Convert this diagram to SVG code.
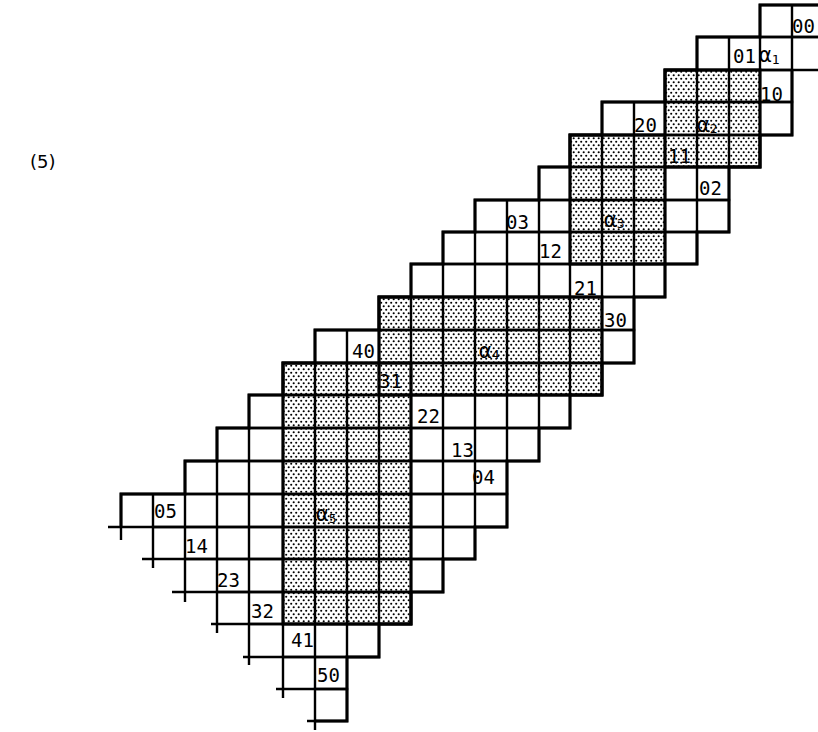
<svg xmlns="http://www.w3.org/2000/svg" width="818" height="732" viewBox="0 0 818 732">
<style>
.g{fill:none;stroke:#000;stroke-width:2.4;stroke-linejoin:miter}
.o{fill:none;stroke:#000;stroke-width:3}
.t{fill:none;stroke:#000;stroke-width:2.4}
.sh{fill:url(#dots);stroke:none}
text{font-family:"DejaVu Sans Mono","Liberation Mono",monospace;font-size:19px;fill:#000}
.al{font-size:21px}
.sub{font-size:13px}
.cap{font-family:"DejaVu Sans","Liberation Sans",sans-serif;font-size:18px}
</style>
<defs>
<pattern id="dots" width="5" height="7" patternUnits="userSpaceOnUse">
<rect width="5" height="7" fill="#fff"/>
<circle cx="1.2" cy="1.75" r="1.05" fill="#000"/>
<circle cx="3.7" cy="5.25" r="1.05" fill="#000"/>
</pattern>
</defs>
<rect width="818" height="732" fill="#fff"/>
<g id="shading">
<rect id="block-a2" class="sh" x="665" y="70" width="95" height="97"/>
<rect id="block-a3" class="sh" x="570" y="135" width="95" height="129"/>
<rect id="block-a4" class="sh" x="379" y="297" width="223" height="98"/>
<rect id="block-a5" class="sh" x="283" y="363" width="128" height="261"/>
</g>
<g id="grid">
<path id="row0" class="g" d="M760 5H824V37H760Z M792 5V37"/>
<path id="row1" class="g" d="M697 37H824V70H697Z M729 37V70 M760 37V70 M792 37V70"/>
<path id="row2" class="g" d="M665 70H792V102H665Z M697 70V102 M729 70V102 M760 70V102"/>
<path id="row3" class="g" d="M602 102H792V135H602Z M634 102V135 M665 102V135 M697 102V135 M729 102V135 M760 102V135"/>
<path id="row4" class="g" d="M570 135H760V167H570Z M602 135V167 M634 135V167 M665 135V167 M697 135V167 M729 135V167"/>
<path id="row5" class="g" d="M539 167H729V200H539Z M570 167V200 M602 167V200 M634 167V200 M665 167V200 M697 167V200"/>
<path id="row6" class="g" d="M475 200H729V232H475Z M507 200V232 M539 200V232 M570 200V232 M602 200V232 M634 200V232 M665 200V232 M697 200V232"/>
<path id="row7" class="g" d="M443 232H697V264H443Z M475 232V264 M507 232V264 M539 232V264 M570 232V264 M602 232V264 M634 232V264 M665 232V264"/>
<path id="row8" class="g" d="M411 264H665V297H411Z M443 264V297 M475 264V297 M507 264V297 M539 264V297 M570 264V297 M602 264V297 M634 264V297"/>
<path id="row9" class="g" d="M379 297H634V330H379Z M411 297V330 M443 297V330 M475 297V330 M507 297V330 M539 297V330 M570 297V330 M602 297V330"/>
<path id="row10" class="g" d="M315 330H634V363H315Z M347 330V363 M379 330V363 M411 330V363 M443 330V363 M475 330V363 M507 330V363 M539 330V363 M570 330V363 M602 330V363"/>
<path id="row11" class="g" d="M283 363H602V395H283Z M315 363V395 M347 363V395 M379 363V395 M411 363V395 M443 363V395 M475 363V395 M507 363V395 M539 363V395 M570 363V395"/>
<path id="row12" class="g" d="M249 395H570V428H249Z M283 395V428 M315 395V428 M347 395V428 M379 395V428 M411 395V428 M443 395V428 M475 395V428 M507 395V428 M539 395V428"/>
<path id="row13" class="g" d="M217 428H539V461H217Z M249 428V461 M283 428V461 M315 428V461 M347 428V461 M379 428V461 M411 428V461 M443 428V461 M475 428V461 M507 428V461"/>
<path id="row14" class="g" d="M185 461H507V494H185Z M217 461V494 M249 461V494 M283 461V494 M315 461V494 M347 461V494 M379 461V494 M411 461V494 M443 461V494 M475 461V494"/>
<path id="row15" class="g" d="M121 494H507V527H121Z M153 494V527 M185 494V527 M217 494V527 M249 494V527 M283 494V527 M315 494V527 M347 494V527 M379 494V527 M411 494V527 M443 494V527 M475 494V527"/>
<path id="row16" class="g" d="M153 527H475V559H153Z M185 527V559 M217 527V559 M249 527V559 M283 527V559 M315 527V559 M347 527V559 M379 527V559 M411 527V559 M443 527V559"/>
<path id="row17" class="g" d="M185 559H443V592H185Z M217 559V592 M249 559V592 M283 559V592 M315 559V592 M347 559V592 M379 559V592 M411 559V592"/>
<path id="row18" class="g" d="M217 592H411V624H217Z M249 592V624 M283 592V624 M315 592V624 M347 592V624 M379 592V624"/>
<path id="row19" class="g" d="M249 624H379V657H249Z M283 624V657 M315 624V657 M347 624V657"/>
<path id="row20" class="g" d="M283 657H347V689H283Z M315 657V689"/>
<path id="row21" class="g" d="M315 689H347V721H315Z"/>
</g>
<g id="outline">
<path class="o" d="M824 5H760V37H697V70H665V102H602V135H570V167H539V200H475V232H443V264H411V297H379V330H315V363H283V395H249V428H217V461H185V494H121V527"/>
<path class="o" d="M792 70V135H760V167H729V232H697V264H665V297H634V363H602V395H570V428H539V461H507V527H475V559H443V592H411V624H379V657H347V721H315"/>
<path class="o" d="M665 70H760V167H665Z M570 135H665V264H570Z M379 297H602V395H379Z M283 363H411V624H283Z"/>
</g>
<g id="ticks">
<path class="t" d="M108 527H121V540 M142 559H153V568 M172 592H185V602 M211 624H217V633 M243 657H249V665 M276 689H283V698 M307 721H315V730"/>
</g>
<g id="labels">
<text x="792" y="33">00</text>
<text x="733" y="63">01</text>
<text class="al" x="759" y="62">α<tspan class="sub" dy="2">1</tspan></text>
<text x="760" y="101">10</text>
<text x="634" y="132">20</text>
<text class="al" x="697" y="132">α<tspan class="sub" dy="1">2</tspan></text>
<text x="668" y="163">11</text>
<text x="699" y="195">02</text>
<text class="al" x="604" y="227">α<tspan class="sub" dy="1">3</tspan></text>
<text x="506" y="229">03</text>
<text x="539" y="258">12</text>
<text x="574" y="295">21</text>
<text x="604" y="327">30</text>
<text x="352" y="358">40</text>
<text class="al" x="479" y="358">α<tspan class="sub" dy="1">4</tspan></text>
<text x="379" y="388">31</text>
<text x="417" y="423">22</text>
<text x="451" y="457">13</text>
<text x="472" y="484">04</text>
<text x="154" y="518">05</text>
<text class="al" x="316" y="521">α<tspan class="sub" dy="2">5</tspan></text>
<text x="185" y="553">14</text>
<text x="217" y="587">23</text>
<text x="251" y="618">32</text>
<text x="291" y="647">41</text>
<text x="317" y="682">50</text>
<text class="cap" x="30" y="168">(5)</text>
</g>
</svg>
